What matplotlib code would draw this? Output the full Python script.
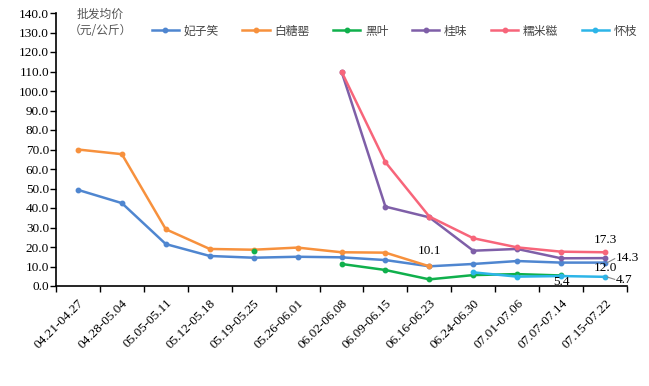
import numpy as np
import matplotlib.pyplot as plt

plt.rcParams['font.family'] = ['Liberation Serif', 'Noto Sans CJK SC', 'DejaVu Sans']

weeks = ['04.21-04.27', '04.28-05.04', '05.05-05.11', '05.12-05.18', '05.19-05.25',
         '05.26-06.01', '06.02-06.08', '06.09-06.15', '06.16-06.23', '06.24-06.30',
         '07.01-07.06', '07.07-07.14', '07.15-07.22']
nan = np.nan
feizixiao = [49.3, 42.5, 21.5, 15.4, 14.5, 15.0, 14.7, 13.3, 10.1, 11.3, 12.8, 12.0, 12.0]
baitangying = [70.0, 67.6, 29.1, 19.0, 18.6, 19.7, 17.3, 17.1, 10.1, nan, nan, nan, nan]
heiye = [nan, nan, nan, nan, 18.0, nan, 11.3, 8.2, 3.4, 5.6, 6.1, 5.4, nan]
guiwei = [nan, nan, nan, nan, nan, nan, 110.0, 40.7, 35.2, 18.1, 19.0, 14.2, 14.3]
nuomici = [nan, nan, nan, nan, nan, nan, 110.0, 63.5, 35.6, 24.5, 19.8, 17.6, 17.3]
huaizhi = [nan, nan, nan, nan, nan, nan, nan, nan, nan, 7.0, 4.8, 5.1, 4.7]

series = [
    ('妃子笑', feizixiao, '#4f86d0'),
    ('白糖罂', baitangying, '#f7913d'),
    ('黑叶', heiye, '#10b04c'),
    ('桂味', guiwei, '#7f5fa8'),
    ('糯米糍', nuomici, '#f7657a'),
    ('怀枝', huaizhi, '#2db5e8'),
]

fig = plt.figure(figsize=(6.49, 3.86), dpi=100)
ax = fig.add_axes([56 / 649, 1 - 286 / 386, (627 - 56) / 649, (286 - 13) / 386])

x = np.arange(len(weeks))
for name, vals, col in series:
    ax.plot(x, vals, color=col, lw=1.8, marker='o', ms=3.2, label=name)

ax.set_xlim(-0.5, len(weeks) - 0.5)
ax.set_ylim(0, 140)
ax.set_yticks(np.arange(0, 141, 10))
ax.set_yticklabels([f'{v:.1f}' for v in np.arange(0, 141, 10)], fontsize=9.5)
ax.set_xticks(np.arange(-0.5, len(weeks), 1))
ax.set_xticklabels([])
ax.set_xticks(x, minor=True)
ax.set_xticklabels(weeks, minor=True, rotation=45, ha='right', rotation_mode='anchor', fontsize=9.5)
ax.tick_params(axis='x', which='minor', length=0, pad=8)
ax.tick_params(axis='both', which='major', direction='out', length=4, width=1)
ax.tick_params(axis='y', pad=1)
for s in ['top', 'right']:
    ax.spines[s].set_visible(False)
for s in ['left', 'bottom']:
    ax.spines[s].set_linewidth(1.2)

# value labels
ax.text(8, feizixiao[8] + 6.5, '10.1', fontsize=9.5, ha='center')
ax.text(12, nuomici[12] + 5, '17.3', fontsize=9.5, ha='center')
ax.text(12.25, 14.6, '14.3', fontsize=9.5, ha='left', va='center')
ax.text(12, 9.0, '12.0', fontsize=9.5, ha='center', va='center')
ax.text(11, 2.0, '5.4', fontsize=9.5, ha='center', va='center')
ax.text(12.25, 3.0, '4.7', fontsize=9.5, ha='left', va='center')
ax.plot([12.05, 12.22], [12.0, 14.0], color='#888888', lw=0.8, clip_on=False)
ax.plot([12.05, 12.22], [4.6, 3.4], color='#888888', lw=0.8, clip_on=False)

cjk = ['Noto Sans CJK SC', 'DejaVu Sans']
fig.text(100 / 649, 1 - 14 / 386, '批发均价', fontsize=8.5, color='#555555', ha='center', va='center',
         family=cjk)
fig.text(100 / 649, 1 - 31 / 386, '（元/公斤）', fontsize=8.5, color='#555555', ha='center', va='center',
         family=cjk)

leg = ax.legend(ncol=6, loc='center left', bbox_to_anchor=(147 / 649, 1 - 31 / 386),
                bbox_transform=fig.transFigure, frameon=False,
                handlelength=2.3, columnspacing=2.0, handletextpad=0.4, borderaxespad=0,
                prop={'family': cjk, 'size': 8.5})
for t in leg.get_texts():
    t.set_color('#444444')

fig.savefig('out.png', dpi=100, facecolor='white')
